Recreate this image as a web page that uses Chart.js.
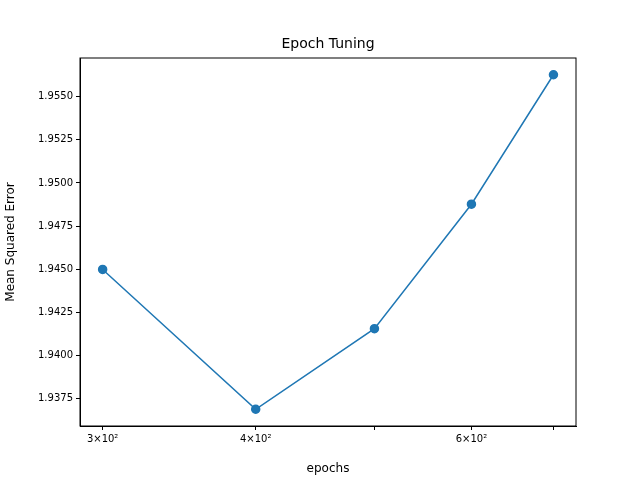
<!DOCTYPE html>
<html><head><script src="https://cdn.jsdelivr.net/npm/chart.js"></script>
<style>body{margin:0}canvas{display:block}</style></head>
<body><canvas id="c" width="640" height="480"></canvas>
<script>
const epochs=[300,400,500,600,700];
const mse=[1.94499,1.93689,1.94156,1.94877,1.95627];
const xTicks=[300,400,500,600,700];
const xLabels={300:'3×10²',400:'4×10²',600:'6×10²'};
const yTicks=[1.9375,1.9400,1.9425,1.9450,1.9475,1.9500,1.9525,1.9550];
const F='DejaVu Sans';
const frame={id:'frame',afterDraw(c){const a=c.chartArea,x=c.ctx;x.save();x.strokeStyle='#000';x.lineWidth=1;x.strokeRect(a.left,a.top,a.right-a.left,a.bottom-a.top);
x.fillStyle='#000';x.font='14px '+F;x.textAlign='center';x.textBaseline='bottom';x.fillText('Epoch Tuning',(a.left+a.right)/2,a.top-7);x.restore();}};
new Chart(document.getElementById('c'),{type:'line',
data:{datasets:[{data:epochs.map((e,i)=>({x:e,y:mse[i]})),borderColor:'#1f77b4',backgroundColor:'#1f77b4',pointRadius:4,pointHoverRadius:4,borderWidth:1.5,tension:0}]},
options:{responsive:false,devicePixelRatio:1,animation:false,layout:{padding:{top:58,right:64,left:0,bottom:0}},
plugins:{legend:{display:false},tooltip:{enabled:false}},
scales:{
x:{type:'logarithmic',min:287.5,max:730.3,afterBuildTicks(s){s.ticks=xTicks.map(v=>({value:v}));},
afterFit(s){s.height=54;},
ticks:{autoSkip:false,maxRotation:0,color:'#000',font:{family:F,size:10},callback:v=>xLabels[v]||''},
grid:{drawOnChartArea:false,tickLength:4,color:'#000'},border:{color:'#000'},
title:{display:true,text:'epochs',color:'#000',font:{family:F,size:12}}},
y:{min:1.93592,max:1.95724,afterBuildTicks(s){s.ticks=yTicks.map(v=>({value:v}));},
afterFit(s){s.width=80;},
ticks:{autoSkip:false,color:'#000',font:{family:F,size:10},callback:v=>v.toFixed(4)},
grid:{drawOnChartArea:false,tickLength:4,color:'#000'},border:{color:'#000'},
title:{display:true,text:'Mean Squared Error',color:'#000',font:{family:F,size:12}}}}},
plugins:[frame]});
</script></body></html>
